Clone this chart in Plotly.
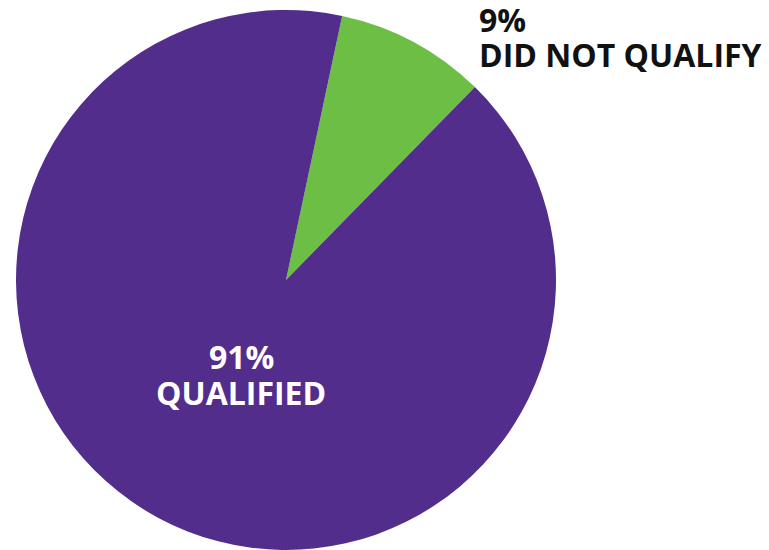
import plotly.graph_objects as go

# Share of applicants by outcome
labels = ["DID NOT QUALIFY", "QUALIFIED"]
values = [9, 91]
colors = ["#6DBE45", "#522D8C"]

W, H = 769, 550

fig = go.Figure(
    go.Pie(
        labels=labels,
        values=values,
        sort=False,
        direction="clockwise",
        rotation=12,
        marker=dict(colors=colors, line=dict(width=0)),
        textinfo="none",
        hoverinfo="label+percent",
        domain=dict(x=[16 / W, 556 / W], y=[0, 540 / H]),
        showlegend=False,
    )
)

font_family = "Open Sans, Lato, sans-serif"
FS = 32


def add_line(text, x_px, y_px, anchor, color, box_h):
    # one text line per annotation, with a fixed box height so the lines
    # sit closer together than the default 1.3em line height
    fig.add_annotation(
        x=x_px / W, y=1 - y_px / H, xref="paper", yref="paper",
        xanchor=anchor, yanchor="middle", showarrow=False,
        height=box_h, borderpad=0, valign="middle",
        text=f"<b>{text}</b>",
        font=dict(family=font_family, size=FS, color=color),
    )


# Outside label for the small slice (two lines, left aligned)
add_line(f"{values[0]}%", 478, 19.5, "left", "#111111", 35)
add_line(labels[0], 478, 54.5, "left", "#111111", 35)

# Inside label for the large slice (two lines, centred)
add_line(f"{values[1]}%", 241, 356, "center", "#FFFFFF", 36)
add_line(labels[1], 241, 392, "center", "#FFFFFF", 36)

fig.update_layout(
    width=W, height=H,
    margin=dict(l=0, r=0, t=0, b=0),
    paper_bgcolor="white", plot_bgcolor="white",
)

fig.write_html("out.html")
